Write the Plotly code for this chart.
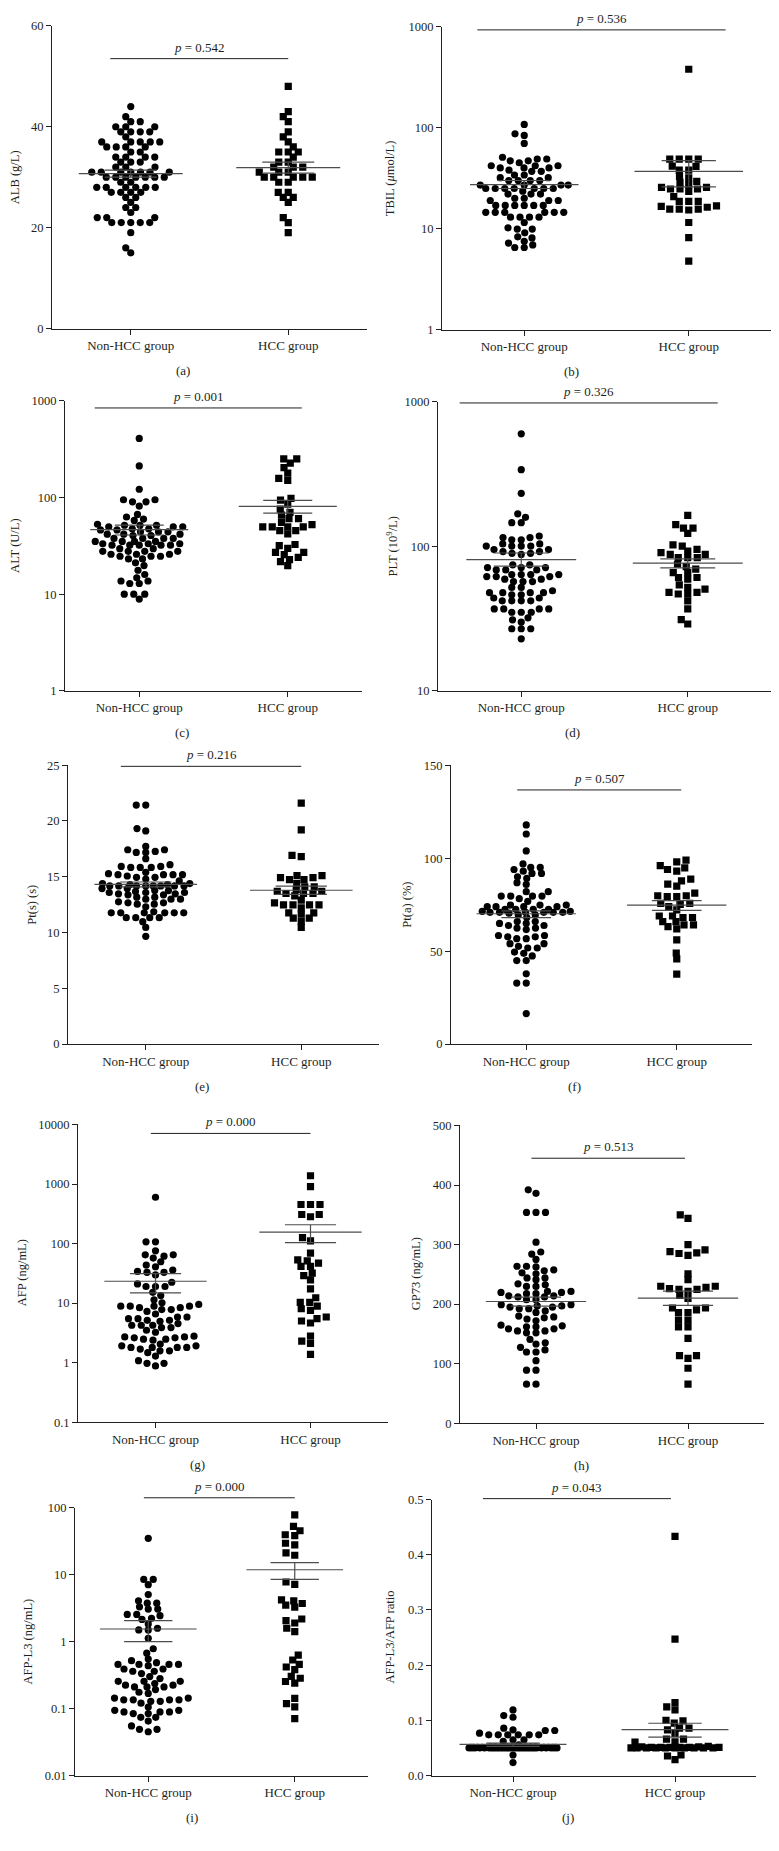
import numpy as np
import plotly.graph_objects as go

W, H = 779, 1851
FONT = "Liberation Serif"
TXT = "#231f20"
GROUPS = ["Non-HCC group", "HCC group"]
LETTERS = ["(a)", "(b)", "(c)", "(d)", "(e)", "(f)", "(g)", "(h)", "(i)", "(j)"]
Y_TITLES = ["ALB (g/L)", "TBIL (<i>μ</i>mol/L)", "ALT (U/L)", "PLT (10<sup>9</sup>/L)",
            "Pt(s) (s)", "Pt(a) (%)", "AFP (ng/mL)", "GP73 (ng/mL)",
            "AFP-L3 (ng/mL)", "AFP-L3/AFP ratio"]
P_VALUES = ["0.542", "0.536", "0.001", "0.326", "0.216", "0.507", "0.000", "0.513", "0.000", "0.043"]

# ---------------- data ----------------
ALB_NON = [44, 42, 41, 41, 40, 40, 40, 39, 39, 39, 39, 38, 37, 37, 37, 37, 37, 36, 36, 36, 36,
           35, 35, 34, 34, 34, 34, 33, 33, 33, 32, 32, 32, 31, 31, 31, 31, 31, 31, 31,
           30, 30, 30, 30, 30, 30, 30, 29, 29, 28, 28, 28, 28, 28, 28, 27, 27, 27, 27,
           26, 26, 25, 24, 24, 23, 22, 22, 22, 21, 21, 21, 21, 21, 19, 16, 15]
ALB_HCC = [48, 43, 42, 41, 39, 38, 37, 36, 35, 35, 35, 34, 33, 33, 32, 32, 32, 31, 31, 31,
           30, 30, 30, 30, 30, 29, 29, 27, 27, 26, 26, 25, 22, 21, 19]

TBIL_NON = [108, 87, 84, 70, 51, 49, 49, 47, 47, 45, 42, 42, 42, 40, 40, 40, 38, 37, 37, 34, 34,
            32, 32, 30, 30, 30, 30, 27, 27, 27, 27, 25, 25, 25, 25, 25, 25, 25, 23.5, 22, 22, 22,
            20, 20, 19, 19, 19, 17, 17, 17, 17, 17, 17, 14.5, 14.5, 14.5, 14.5, 14.5, 14.5,
            13, 13, 13, 13, 11.5, 10.2, 9.9, 9.9, 9.1, 8.3, 8.1, 7.5, 7.2, 6.9, 6.5, 6.5]
TBIL_HCC = [380, 48.8, 48.8, 48.8, 48.8, 41.5, 38, 38, 41.7, 33, 31.8, 29.4, 28.8, 27.3, 25.7, 25.7,
            24.7, 24.7, 24.7, 23.4, 20.8, 18.6, 18.6, 18.6, 16.6, 15.6, 15.6, 15.3, 15.6, 16.3,
            16.8, 11.5, 8.15, 4.77]

ALT_NON = [410, 213, 122, 95, 95, 90.5, 90.5, 81.7, 67, 63, 60, 58, 53, 51.7, 51.7, 51.7,
           49.8, 49.8, 49.8, 47.5, 47.5, 46.3, 46.3, 44.2, 44.2, 44.2, 41.8, 41.8, 41.8, 40.5, 40.5,
           37.8, 37.8, 37.8, 37.8, 35.2, 35.2, 35.2, 35.2, 33.3, 33.3, 33.3, 32.2, 32.2, 32.2, 32.2,
           32.2, 29.6, 29.6, 27.8, 27.8, 27.8, 27.8, 25.9, 25.9, 25.9, 24.7, 24.7, 24.7, 23.2, 23.2,
           21.1, 19.8, 17.7, 16, 14.8, 13.7, 13.7, 12.9, 12.9, 10, 10, 10, 8.9]
ALT_HCC = [252, 252, 227, 204, 179, 158, 151, 98, 94, 85.7, 76, 70.3, 66, 60.5, 60.5, 55.5, 52.5,
           49.8, 49.8, 49.8, 49.8, 45.6, 45.6, 42.2, 32.7, 31.8, 29.8, 27.1, 27.1, 25.7, 24.1, 22.8,
           21.7, 19.8]

PLT_NON = [602, 340, 233, 168, 159, 146, 146, 118, 115, 115, 111, 111, 104, 104, 100.5, 100.5,
           100.5, 100.5, 95, 95, 92, 92, 89.5, 89.5, 88, 74.5, 74.5, 71.3, 71.3, 71.3, 68.7, 68.7,
           68.7, 63.8, 63.8, 63.8, 63.8, 61.8, 61.8, 61.8, 59.3, 59.3, 57.1, 57.1, 57.1, 52, 52,
           49.3, 47.8, 47.8, 47.8, 47.8, 46.2, 46.2, 43.9, 43.9, 42, 42, 42, 42, 36.9, 36.9, 36.9,
           36.9, 35, 35, 35, 32, 31, 29.9, 26.9, 26.9, 26.9, 22.9]
PLT_HCC = [164, 141.7, 134, 134, 123, 102.6, 100.5, 95.3, 92.9, 90.4, 88, 88, 83.6, 83.6, 83.6,
           75.2, 72.4, 69.5, 65.9, 65.9, 60.9, 60.9, 59.3, 54.2, 52, 50.6, 48, 48, 46.8, 46.8, 42,
           36.9, 31.1, 29]

PTS_NON = [21.43, 21.43, 19.32, 19.11, 17.72, 17.42, 17.42, 17.27, 17.18, 17.18, 16.62, 16.08,
           15.93, 15.93, 15.84, 15.84, 15.84, 15.4, 15.28, 15.19, 15.19, 15.19, 15.19, 15.07,
           14.95, 14.95, 14.8, 14.63, 14.39, 14.39, 14.3, 14.3, 14.18, 14.18, 14.18, 14.18, 14.18,
           14.18, 14.18, 14.18, 13.94, 13.94, 13.76, 13.76, 13.67, 13.59, 13.59, 13.59, 13.47,
           13.47, 13.38, 13.38, 13.17, 13.17, 12.99, 12.99, 12.99, 12.75, 12.66, 12.66, 12.54,
           12.54, 12.31, 11.86, 11.77, 11.77, 11.77, 11.77, 11.77, 11.77, 11.33, 11.33, 11.33,
           11.33, 10.97, 10.46, 9.66]
PTS_HCC = [21.61, 19.2, 16.91, 16.8, 15.1, 15.1, 14.92, 14.92, 14.74, 14.74, 14.39, 14.09, 14.09,
           13.85, 13.7, 13.7, 13.5, 13.5, 13.5, 13.29, 12.9, 12.66, 12.48, 12.48, 12.48, 12.48,
           12.22, 11.77, 11.77, 11.65, 11.3, 11.3, 11.0, 10.46]

PTA_NON = [117.9, 113, 103.9, 96.9, 95, 95, 93.9, 93, 91.8, 91.8, 90, 89.1, 86.8, 85.9, 82, 82,
           79.6, 79.6, 79.6, 79.6, 78.2, 76.8, 74.8, 74.8, 74.8, 73.9, 73.9, 73.9, 73.9, 72.5,
           72.5, 72.5, 72.5, 71.4, 71.4, 70.9, 70.9, 70.9, 70.9, 70.9, 70.9, 70.4, 69.5, 69.5,
           68.1, 65.9, 65.9, 64.9, 64.9, 63.8, 63.8, 62.4, 62.4, 61.6, 58.4, 58.4, 57.7, 57.7,
           56.7, 56.7, 54, 54, 52.6, 51.7, 51.7, 49.5, 48.8, 47.4, 44.9, 44.9, 37.8, 32.8, 32.8, 16.4]
PTA_HCC = [98.9, 98, 96, 94.8, 93.9, 93, 88.7, 87.8, 86, 85, 81.2, 79.8, 79.8, 79.3, 79.3, 75.7,
           75.7, 75.2, 73.9, 72.2, 68.9, 68.9, 68.1, 68.1, 65.9, 65.9, 64.1, 64.1, 63.2, 62, 56.1,
           49, 45.8, 37.6]

AFP_NON = [600, 107, 107, 75.5, 64.7, 64.7, 61.5, 57, 49.5, 43.5, 40.8, 36, 34.1, 32.9, 32.9, 29.7,
           22.4, 21, 19, 19, 19, 15.2, 13.4, 11.4, 10.1, 9.5, 8.9, 8.9, 8.9, 8.9, 8.4, 8.4, 7.8,
           7.8, 7.26, 6.56, 5.85, 5.85, 5.48, 5.48, 5.14, 5.14, 4.95, 4.53, 4.25, 4.25, 4.25, 3.88,
           3.88, 3.5, 3.24, 2.78, 2.71, 2.71, 2.61, 2.61, 2.48, 2.48, 2.39, 2.05, 1.92, 1.92, 1.8,
           1.8, 1.8, 1.8, 1.69, 1.58, 1.58, 1.47, 1.29, 1.08, 0.975, 0.975, 0.88]
AFP_HCC = [1377, 903, 453, 453, 453, 308, 308, 282, 126, 111, 69, 53.4, 51.4, 47, 41.4, 41.4, 32,
           28.9, 24.5, 17.3, 12.3, 10.3, 10.3, 8.9, 8.05, 7.55, 5.85, 5.48, 5.01, 4.64, 2.78, 2.3,
           2.1, 1.38]

GP73_NON = [392, 386, 354, 354, 354, 304, 287.5, 284, 275, 263.6, 263.6, 262.5, 257.5, 256, 252.5,
            251, 244, 244, 241, 234, 232.5, 229.7, 229.7, 221.4, 221.4, 219.7, 219.7, 217.5, 217.5,
            214, 214, 212, 212, 207.5, 207.5, 199, 199, 197, 197, 195, 195, 192.4, 192.4, 188.5,
            186, 180, 178.5, 177, 175, 172, 164.6, 163.5, 161.8, 161.8, 158.5, 158.5, 155, 155,
            151.8, 151.8, 140.7, 135, 133, 127.4, 123, 119.6, 119.6, 105, 89, 89, 65.6, 65.6]
GP73_HCC = [350, 344, 300, 288, 285, 282, 286, 291, 251, 241, 230, 230, 228, 226, 224.7, 224.7,
            221.4, 214.7, 209.7, 193.5, 193.5, 190.2, 185.8, 185.8, 173, 173, 161.8, 161.8, 142.4,
            113.5, 113.5, 109, 92.3, 65.6]

AFPL3_NON = [34.7, 8.47, 8.47, 7.07, 5.03, 4.05, 3.74, 3.74, 3.30, 3.05, 3.05, 2.54, 2.54, 2.43,
             2.22, 2.14, 1.83, 1.58, 1.49, 1.49, 1.12, 0.78, 0.67, 0.547, 0.518, 0.483, 0.456,
             0.456, 0.456, 0.456, 0.436, 0.389, 0.389, 0.36, 0.36, 0.332, 0.3, 0.28, 0.255, 0.255,
             0.255, 0.236, 0.223, 0.223, 0.21, 0.21, 0.21, 0.192, 0.175, 0.168, 0.143, 0.143,
             0.135, 0.135, 0.135, 0.135, 0.128, 0.128, 0.12, 0.105, 0.094, 0.094, 0.089, 0.089,
             0.089, 0.084, 0.084, 0.074, 0.074, 0.065, 0.055, 0.049, 0.049, 0.045]
AFPL3_HCC = [77.9, 52.3, 45.1, 39.3, 38, 29.3, 27.7, 21, 19.4, 7.74, 7.15, 4.19, 4.05, 3.7, 3.49,
             3.26, 2.17, 2.05, 1.89, 1.58, 1.41, 0.628, 0.53, 0.456, 0.417, 0.38, 0.303, 0.283,
             0.253, 0.239, 0.142, 0.118, 0.106, 0.0706]

RATIO_NON = [0.1188, 0.1086, 0.1056, 0.0858, 0.0828, 0.0816, 0.0816, 0.0768, 0.0738, 0.0738,
             0.0738, 0.0738, 0.0738, 0.0738, 0.0648, 0.0648, 0.0618, 0.0558, 0.0372, 0.0234,
             0.050, 0.051, 0.050, 0.052, 0.050, 0.051, 0.050, 0.050, 0.052, 0.051, 0.050, 0.050,
             0.051, 0.050, 0.052, 0.050, 0.051, 0.050, 0.050, 0.051, 0.050, 0.052, 0.050, 0.051,
             0.050, 0.050, 0.051, 0.050, 0.052, 0.050, 0.051, 0.050, 0.050, 0.051, 0.050, 0.052,
             0.050, 0.051, 0.050, 0.050, 0.051, 0.050, 0.052, 0.050, 0.051, 0.050, 0.050, 0.051,
             0.050, 0.052, 0.050, 0.051, 0.050, 0.050]
RATIO_HCC = [0.4334, 0.2473, 0.132, 0.1243, 0.1188, 0.1002, 0.099, 0.0948, 0.0858, 0.0858, 0.0828,
             0.0762, 0.066, 0.066, 0.0612, 0.0606, 0.0528, 0.0372, 0.0354, 0.0288,
             0.050, 0.051, 0.050, 0.052, 0.050, 0.051, 0.050, 0.050, 0.051, 0.050, 0.052, 0.050,
             0.051, 0.050, 0.050, 0.051, 0.050, 0.051]

# mean and SEM bars, as drawn (Non-HCC, HCC)
MEAN_NON = [30.7, 27.3, 46.5, 81, 14.32, 70.1, 23.3, 204.4, 1.54, 0.0563]
SEM_LO_NON = [30.0, 25.0, 41, 73, 14.09, 68.0, 14.9, 196.7, 1.0, 0.0527]
SEM_HI_NON = [31.4, 30.0, 52, 90, 14.53, 71.7, 31.3, 211.7, 2.05, 0.0588]
MEAN_HCC = [31.9, 37, 81, 76.5, 13.79, 74.7, 156, 210, 11.8, 0.0830]
SEM_LO_HCC = [30.8, 26, 69, 71, 13.43, 71.9, 104, 198, 8.5, 0.0696]
SEM_HI_HCC = [33.0, 47.3, 93.6, 82, 14.17, 77.2, 207, 221.7, 15.1, 0.0947]

# p-value brackets: x start, x end (category units), height (data units)
BR_X0 = [-0.13, -0.285, -0.30, -0.37, -0.16, -0.06, -0.03, -0.03, -0.03, -0.185]
BR_X1 = [1.0, 1.224, 1.095, 1.18, 1.0, 1.03, 1.0, 0.98, 1.0, 0.975]
BR_Y = [53.5, 933, 847, 985, 24.9, 136.7, 7080, 445, 140, 0.5018]

NON = [ALB_NON, TBIL_NON, ALT_NON, PLT_NON, PTS_NON, PTA_NON, AFP_NON, GP73_NON, AFPL3_NON, RATIO_NON]
HCC = [ALB_HCC, TBIL_HCC, ALT_HCC, PLT_HCC, PTS_HCC, PTA_HCC, AFP_HCC, GP73_HCC, AFPL3_HCC, RATIO_HCC]

# ---------------- layout / axes ----------------
BOX = [(52, 367, 19, 324), (442, 771, 20, 325), (65, 362, 397, 689), (438, 771, 398, 689),
       (68, 379, 764, 1045), (451, 752, 764, 1045), (78, 388, 1126, 1426), (460, 764, 1127, 1427),
       (75, 368, 1512, 1782), (432, 756, 1504, 1782)]
SCALE = ["linear", "log", "log", "log", "linear", "linear", "log", "linear", "log", "linear"]
RANGE = [(0, 60), (0, 3), (0, 3), (1, 3), (0, 25), (0, 150), (-1, 4), (0, 500), (-2, 2), (0, 0.5)]
TICKS = [[0, 20, 40, 60], [1, 10, 100, 1000], [1, 10, 100, 1000], [10, 100, 1000],
         [0, 5, 10, 15, 20, 25], [0, 50, 100, 150], [0.1, 1, 10, 100, 1000, 10000],
         [0, 100, 200, 300, 400, 500], [0.01, 0.1, 1, 10, 100], [0, 0.1, 0.2, 0.3, 0.4, 0.5]]
TICKTXT = [["0", "20", "40", "60"], ["1", "10", "100", "1000"], ["1", "10", "100", "1000"],
           ["10", "100", "1000"], ["0", "5", "10", "15", "20", "25"], ["0", "50", "100", "150"],
           ["0.1", "1", "10", "100", "1000", "10000"], ["0", "100", "200", "300", "400", "500"],
           ["0.01", "0.1", "1", "10", "100"], ["0.0", "0.1", "0.2", "0.3", "0.4", "0.5"]]
YTITLE_OFF = [37, 52, 50, 46, 36, 44, 56, 44, 47, 42]
LETTER_X = [0.416, 0.395, 0.394, 0.405, 0.43, 0.41, 0.384, 0.40, 0.40, 0.42]


def frac(v, k):
    t = np.log10(v) if SCALE[k] == "log" else np.asarray(v, dtype=float)
    r0, r1 = RANGE[k]
    return (t - r0) / (r1 - r0)


def swarm(ypx, sx=9.4, sy=6.0, cap=44.0, step=0.25):
    ypx = np.asarray(ypx, dtype=float)
    n = len(ypx)
    order = np.argsort(ypx, kind="stable")
    cands = np.arange(-cap, cap + 1e-9, step)
    xs = np.zeros(n)
    px, py = [], []
    for i in order:
        y = ypx[i]
        x = 0.0
        if px:
            ax = np.array(px)
            ay = np.array(py)
            near = np.abs(ay - y) < sy
            if near.any():
                dx = (cands[:, None] - ax[near][None, :]) / sx
                dy = ((ay[near] - y) / sy)[None, :]
                d = np.sqrt(dx ** 2 + dy ** 2).min(axis=1)
                ok = d >= 1 - 1e-9
                if ok.any():
                    a = np.where(ok, np.abs(cands), np.inf)
                    best = a.min()
                    idx = np.where(np.abs(a - best) < 1e-9)[0]
                    if len(idx) > 1:
                        left = (ax[near] < 0).sum()
                        right = (ax[near] > 0).sum()
                        pick = idx[0] if left <= right else idx[-1]
                    else:
                        pick = idx[0]
                    x = cands[pick]
                else:
                    score = d - 1e-6 * np.abs(cands)
                    x = cands[np.argmax(score)]
        xs[i] = x
        px.append(x)
        py.append(y)
    return xs


fig = go.Figure()
annotations = []
shapes = []
LINE_C = "#4d4d4d"

for k in range(10):
    n = k + 1
    xa = "x" if n == 1 else f"x{n}"
    ya = "y" if n == 1 else f"y{n}"
    x0, x1, yt, yb = BOX[k]
    hpx = yb - yt
    ppu = (x1 - x0) / 2.0

    groups = [(NON[k], 0, "circle", MEAN_NON[k], SEM_LO_NON[k], SEM_HI_NON[k]),
              (HCC[k], 1, "square", MEAN_HCC[k], SEM_LO_HCC[k], SEM_HI_HCC[k])]
    for vals, c, sym, m, lo, hi in groups:
        ypx = frac(np.array(vals, dtype=float), k) * hpx
        off = swarm(ypx) / ppu
        fig.add_trace(go.Scatter(
            x=c + off, y=vals, mode="markers", xaxis=xa, yaxis=ya,
            marker=dict(symbol=sym, size=7.2, color="black", line=dict(width=0)),
            hoverinfo="skip", showlegend=False))
    for vals, c, sym, m, lo, hi in groups:
        fig.add_trace(go.Scatter(
            x=[c - 0.33, c + 0.33, None, c - 0.165, c + 0.165, None, c - 0.165, c + 0.165, None, c, c],
            y=[m, m, None, hi, hi, None, lo, lo, None, lo, hi],
            mode="lines", xaxis=xa, yaxis=ya, line=dict(color=LINE_C, width=1.2),
            hoverinfo="skip", showlegend=False))

    common = dict(showline=True, linecolor=TXT, linewidth=1, ticks="outside", ticklen=5,
                  tickwidth=1, tickcolor=TXT, showgrid=False, zeroline=False)
    fig.update_layout(**{
        ("xaxis" if n == 1 else f"xaxis{n}"): dict(
            domain=[x0 / W, x1 / W], anchor=ya, range=[-0.5, 1.5], tickvals=[0, 1],
            ticktext=GROUPS, tickfont=dict(family=FONT, size=13, color=TXT), **common),
        ("yaxis" if n == 1 else f"yaxis{n}"): dict(
            domain=[(H - yb) / H, (H - yt) / H], anchor=xa, type=SCALE[k], range=list(RANGE[k]),
            tickvals=TICKS[k], ticktext=TICKTXT[k],
            tickfont=dict(family=FONT, size=12.5, color=TXT), **common),
    })

    # p-value bracket
    by = float(frac(BR_Y[k], k))
    bx0 = (BR_X0[k] + 0.5) / 2
    bx1 = (BR_X1[k] + 0.5) / 2
    shapes.append(dict(type="line", xref=f"{xa} domain", yref=f"{ya} domain",
                       x0=bx0, x1=bx1, y0=by, y1=by, line=dict(color=TXT, width=1)))
    annotations.append(dict(xref=f"{xa} domain", yref=f"{ya} domain", x=(bx0 + bx1) / 2, y=by,
                            xanchor="center", yanchor="bottom", yshift=2, showarrow=False,
                            text=f"<i>p</i> = {P_VALUES[k]}",
                            font=dict(family=FONT, size=13, color=TXT)))
    # y title
    annotations.append(dict(xref=f"{xa} domain", yref=f"{ya} domain", x=0, y=0.5,
                            xshift=-YTITLE_OFF[k], xanchor="center", yanchor="middle",
                            textangle=-90, showarrow=False, text=Y_TITLES[k],
                            font=dict(family=FONT, size=12.5, color=TXT)))
    # panel letter
    annotations.append(dict(xref=f"{xa} domain", yref=f"{ya} domain", x=LETTER_X[k], y=0,
                            yshift=-42, xanchor="center", yanchor="middle", showarrow=False,
                            text=LETTERS[k], font=dict(family=FONT, size=13, color=TXT)))

fig.update_layout(width=W, height=H, autosize=False, margin=dict(l=0, r=0, t=0, b=0),
                  paper_bgcolor="white", plot_bgcolor="white", showlegend=False,
                  annotations=annotations, shapes=shapes)

fig.write_html("out.html", config={"displayModeBar": False},
               post_script="document.documentElement.style.margin='0px';"
                           "document.body.style.margin='0px';document.body.style.padding='0px';")
